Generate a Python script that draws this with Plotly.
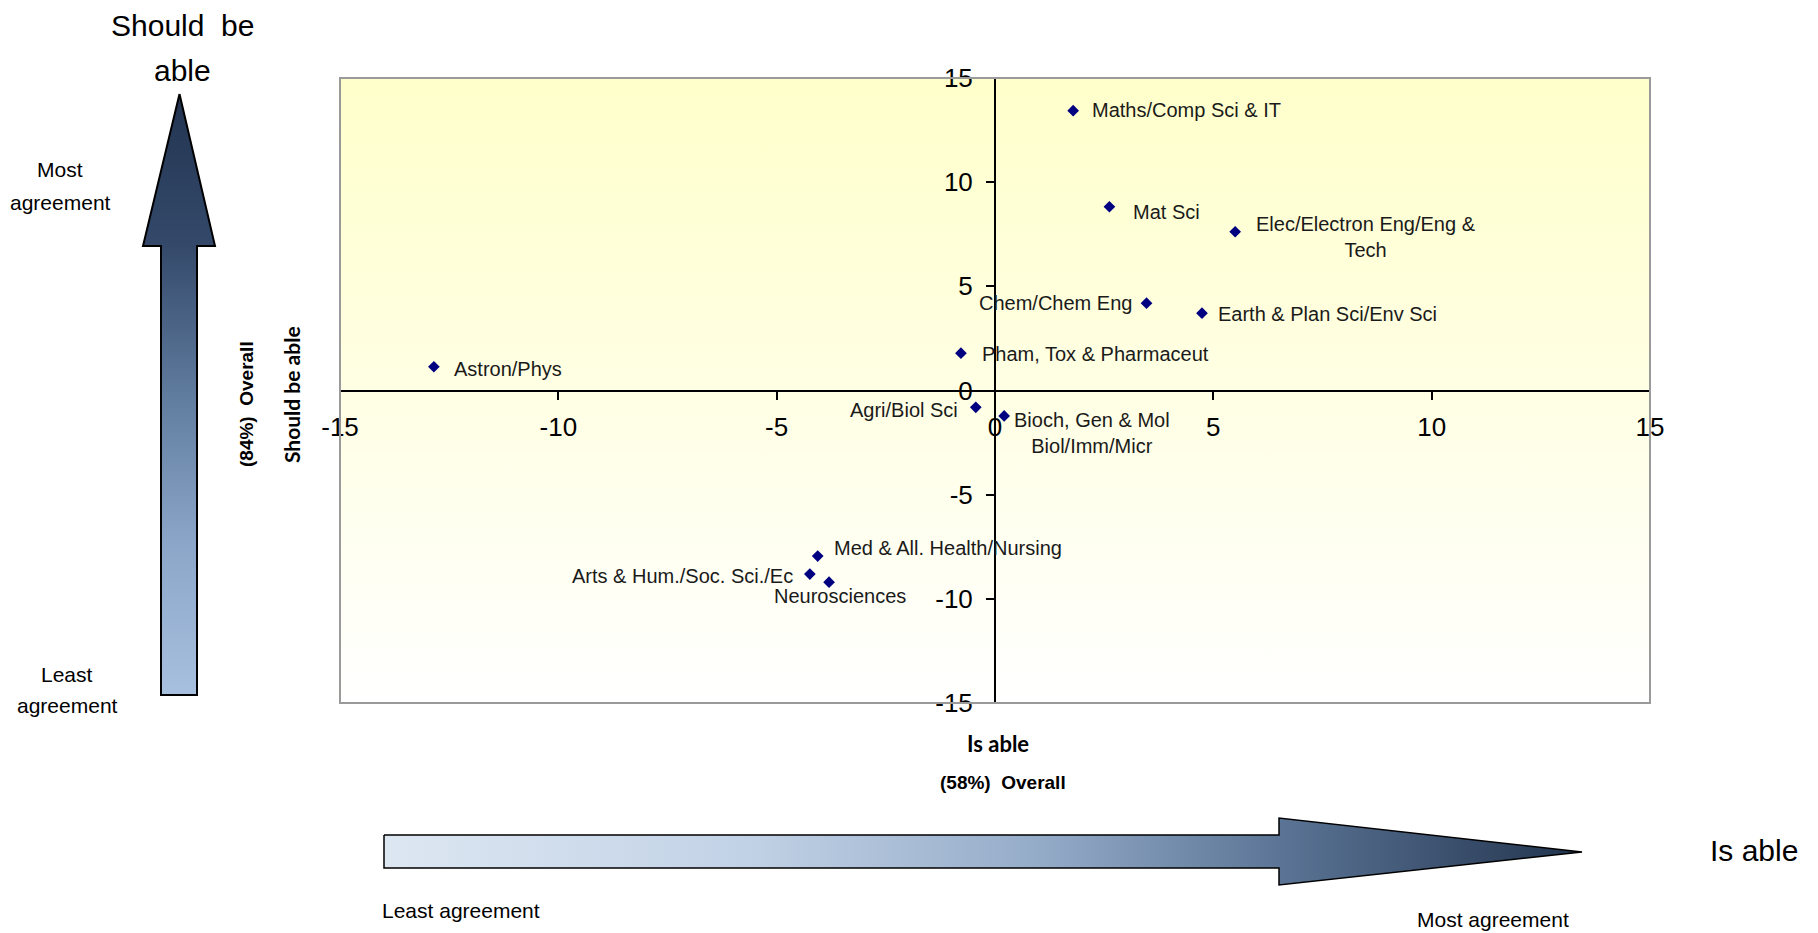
import plotly.graph_objects as go

# Subject areas and their scores on the two agreement scales
categories = [
    "Astron/Phys", "Pham, Tox & Pharmaceut", "Agri/Biol Sci",
    "Bioch, Gen & Mol<br>Biol/Imm/Micr", "Maths/Comp Sci & IT", "Mat Sci",
    "Elec/Electron Eng/Eng &<br>Tech", "Chem/Chem Eng", "Earth & Plan Sci/Env Sci",
    "Med & All. Health/Nursing", "Arts & Hum./Soc. Sci./Ec", "Neurosciences",
]
is_able = [-12.85, -0.78, -0.44, 0.21, 1.79, 2.62, 5.50, 3.47, 4.74, -4.06, -4.24, -3.80]
should_be_able = [1.14, 1.79, -0.81, -1.22, 13.43, 8.82, 7.62, 4.19, 3.71, -7.95, -8.81, -9.20]

tick_vals = [-15, -10, -5, 0, 5, 10, 15]
tick_text = ["-15", "-10", "-5", "0", "5", "10", "15"]

# label placement next to each marker: (xanchor, xshift, yshift)
label_place = [
    ("left", 18, -2), ("left", 19, -1), ("right", -16, -3), ("left", 8, -17),
    ("left", 17, 1), ("left", 22, -5), ("left", 19, -5), ("right", -13, 0),
    ("left", 14, -1), ("left", 14, 8), ("right", -15, -2), ("center", 11, -14),
]

W, H = 1818, 933
XMIN, XMAX = -15, 15
YMIN, YMAX = -15, 15
x_dom = [340 / W, 1650 / W]
y_dom = [1 - 703 / H, 1 - 78 / H]
# axes cross at the origin
y_axis_pos = x_dom[0] + (0 - XMIN) / (XMAX - XMIN) * (x_dom[1] - x_dom[0])
x_axis_pos = y_dom[0] + (0 - YMIN) / (YMAX - YMIN) * (y_dom[1] - y_dom[0])

LABEL_FONT = "Liberation Sans, Arial, sans-serif"

fig = go.Figure()

# pale yellow plot-area background fading to white
fig.add_trace(go.Scatter(
    x=[XMIN, XMAX, XMAX, XMIN, XMIN], y=[YMIN, YMIN, YMAX, YMAX, YMIN],
    mode="none", fill="toself",
    fillgradient=dict(type="vertical", start=YMIN, stop=YMAX,
                      colorscale=[[0, "#ffffff"], [0.5, "#ffffe4"], [1, "#ffffcb"]]),
    hoverinfo="skip", showlegend=False,
))

fig.add_trace(go.Scatter(
    x=is_able, y=should_be_able, mode="markers",
    marker=dict(symbol="diamond", size=9, color="#000080"),
    text=categories, hoverinfo="text", showlegend=False,
))

for name, xv, yv, (anchor, dx, dy) in zip(categories, is_able, should_be_able, label_place):
    fig.add_annotation(
        x=xv, y=yv, xref="x", yref="y", text=name, showarrow=False,
        xanchor=anchor, yanchor="middle", xshift=dx, yshift=dy, align="center",
        font=dict(family=LABEL_FONT, size=20, color="#1a1a1a"),
    )

# plot-area frame
fig.add_shape(type="rect", xref="x domain", yref="y domain", x0=0, x1=1, y0=0, y1=1,
              line=dict(color="#9a9a9a", width=2), fillcolor="rgba(0,0,0,0)")

# decorative arrows drawn in pixel space on a hidden overlay
fig.add_trace(go.Scatter(
    x=[179.5, 215, 197, 197, 161, 161, 143, 179.5],
    y=[94, 246, 246, 695, 695, 246, 246, 94],
    xaxis="x2", yaxis="y2", mode="lines", fill="toself",
    line=dict(color="#000000", width=2),
    fillgradient=dict(type="vertical", start=94, stop=695,
                      colorscale=[[0, "#223450"], [0.25, "#34496a"], [0.5, "#5f7b9e"],
                                  [0.75, "#8ba6c8"], [1, "#a8c0df"]]),
    hoverinfo="skip", showlegend=False,
))
fig.add_trace(go.Scatter(
    x=[384, 1279, 1279, 1582, 1279, 1279, 384, 384],
    y=[835, 835, 818, 852, 885, 868, 868, 835],
    xaxis="x2", yaxis="y2", mode="lines", fill="toself",
    line=dict(color="#000000", width=1.5),
    fillgradient=dict(type="horizontal", start=384, stop=1582,
                      colorscale=[[0, "#dde7f2"], [0.3, "#c2d2e6"], [0.55, "#94abc8"],
                                  [0.75, "#5b7495"], [1, "#22344e"]]),
    hoverinfo="skip", showlegend=False,
))

side_texts = [
    ("Should\u00a0 be", 182, 25, 30, LABEL_FONT, 0),
    ("able", 182, 70, 30, LABEL_FONT, 0),
    ("Most", 60, 169, 21, LABEL_FONT, 0),
    ("agreement", 60, 202, 21, LABEL_FONT, 0),
    ("Least", 67, 674, 21, LABEL_FONT, 0),
    ("agreement", 67, 705, 21, LABEL_FONT, 0),
    ("Is able", 1754, 850, 30, LABEL_FONT, 0),
    ("Least agreement", 461, 910, 21, LABEL_FONT, 0),
    ("Most agreement", 1493, 919, 21, LABEL_FONT, 0),
    ("<b>Is able</b>", 998, 743, 22, "Lato, Carlito, sans-serif", 0),
    ("<b>(58%)\u00a0 Overall</b>", 1003, 782, 19, LABEL_FONT, 0),
    ("<b>Should be able</b>", 291, 395, 21, "Lato, Carlito, sans-serif", -90),
    ("<b>(84%)\u00a0 Overall</b>", 246, 404, 19, LABEL_FONT, -90),
]
for txt, px, py, size, fam, ang in side_texts:
    fig.add_annotation(
        x=px, y=py, xref="x2", yref="y2", text=txt, showarrow=False,
        xanchor="center", yanchor="middle", align="center", textangle=ang,
        font=dict(family=fam, size=size, color="#000000"),
    )

axis_common = dict(
    tickmode="array", tickvals=tick_vals, ticktext=tick_text,
    showgrid=False, zeroline=False, showline=True, linecolor="#000000", linewidth=2,
    ticks="outside", ticklen=8, tickwidth=1.5, tickcolor="#000000",
    tickfont=dict(family=LABEL_FONT, size=26, color="#000000"),
    fixedrange=True, automargin=False,
)

fig.update_layout(
    template="none",
    width=W, height=H, margin=dict(l=0, r=0, t=0, b=0, pad=0, autoexpand=False),
    paper_bgcolor="#ffffff", plot_bgcolor="rgba(0,0,0,0)",
    xaxis=dict(range=[XMIN, XMAX], domain=x_dom, anchor="free", position=x_axis_pos,
               side="bottom", ticklabelstandoff=5, **axis_common),
    yaxis=dict(range=[YMIN, YMAX], domain=y_dom, anchor="free", position=y_axis_pos,
               side="left", ticklabelstandoff=8, **axis_common),
    xaxis2=dict(range=[0, W], domain=[0, 1], anchor="y2", visible=False,
                fixedrange=True, automargin=False),
    yaxis2=dict(range=[H, 0], domain=[0, 1], anchor="x2", visible=False,
                fixedrange=True, automargin=False),
    showlegend=False,
)

fig.write_html("out.html")
